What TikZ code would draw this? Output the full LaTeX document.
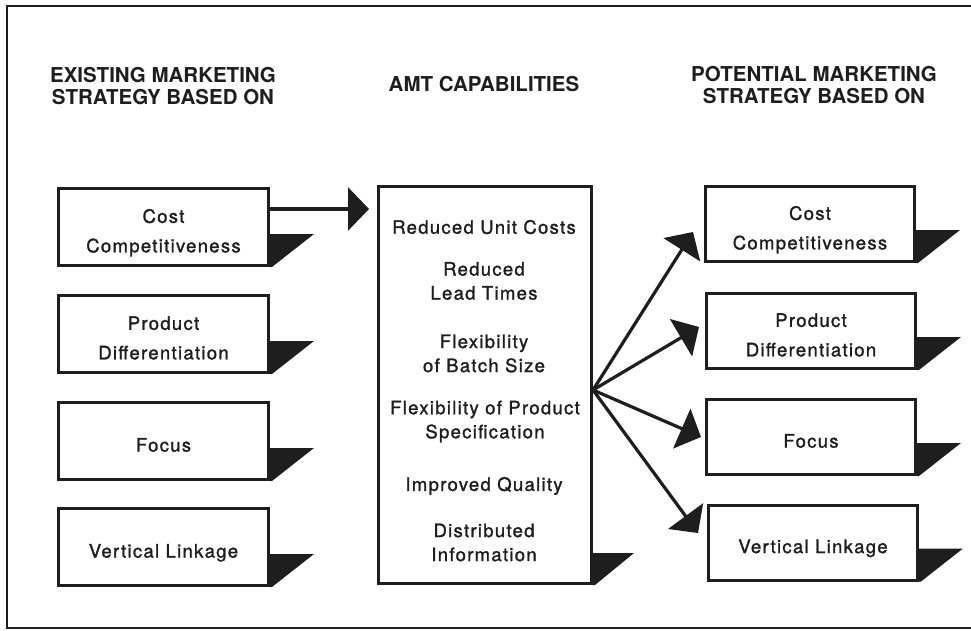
\documentclass[tikz,border=0pt]{standalone}
\usepackage{fontspec}
\setmainfont{TeX Gyre Heros}
\newfontfamily\bodyfont[LetterSpace=7,FakeBold=1.4]{TeX Gyre Heros}
\usetikzlibrary{arrows.meta,calc}
\definecolor{ink}{RGB}{30,30,30}
\begin{document}
\begin{tikzpicture}[x=1pt,y=1pt,
  box/.style={draw=ink, line width=3pt, fill=white, minimum width=210pt, minimum height=77pt,
    inner sep=0pt, align=center, font=\bodyfont\fontsize{18.5}{29.5}\selectfont, text=ink,
    text depth=2.8pt},
  one/.style={text height=24pt},
  two/.style={text height=53.5pt},
  rbox/.style={box, minimum width=209pt, minimum height=75pt},
  capbox/.style={draw=ink, line width=3pt, minimum width=213pt, minimum height=397pt, inner sep=0pt},
  captext/.style={align=center, font=\bodyfont\fontsize{18.5}{24}\selectfont, text=ink, inner sep=0pt},
  head/.style={align=center, font=\bfseries\fontsize{20.5}{22}\selectfont, text=ink, inner sep=0pt},
  arr/.style={draw=ink, line width=3.2pt, -{Triangle[length=21pt,width=43pt]}},
  shadowfill/.style={fill=ink}
]
\useasboundingbox (0,0) rectangle (971,-631);
\fill[white] (0,0) rectangle (971,-631);
% frame
\draw[ink, line width=2.8pt] (975,-6) -- (7,-6) -- (7,-628) -- (975,-628);

% headings
\node[head] (hl) at (163,-86.5) {EXISTING MARKETING\\STRATEGY BASED ON};
\node[head] (hc) at (484,-84) {AMT CAPABILITIES};
\node[head] (hr) at (814,-85.5) {POTENTIAL MARKETING\\STRATEGY BASED ON};

% left boxes
\node[box,two] (l1) at (163.5,-227) {Cost\\Competitiveness};
\node[box,two] (l2) at (163.5,-334) {Product\\Differentiation};
\node[box,one] (l3) at (163.5,-441) {Focus};
\node[box,one] (l4) at (163.5,-547) {Vertical Linkage};

% right boxes
\node[rbox,two] (r1) at (810,-224) {Cost\\Competitiveness};
\node[rbox,two] (r2) at (811,-331) {Product\\Differentiation};
\node[rbox,one] (r3) at (811,-437) {Focus};
\node[rbox,one] (r4) at (813,-542.5) {Vertical Linkage};

% center box
\node[capbox] (amt) at (485,-385) {};
\node[captext] (c1) at (484,-227) {Reduced Unit Costs};
\node[captext] (c2) at (484,-281) {Reduced\\Lead Times};
\node[captext] (c3) at (484,-353.5) {Flexibility\\of Batch Size};
\node[captext] (c4) at (485,-421.5) {Flexibility of Product\\Specification};
\node[captext] (c5) at (484,-486) {Improved Quality};
\node[captext] (c6) at (484,-542.5) {Distributed\\Information};

% shadows
\foreach \b in {l1,l2,l3,l4,r1,r2,r3,r4}{
  \fill[shadowfill] ($(\b.south east)+(0,33)$) -- ++(44,0) -- ($(\b.south east)+(2,0)$) -- (\b.south east) -- cycle;
}
\fill[shadowfill] ($(amt.south east)+(0,32)$) -- ++(41,0) -- ($(amt.south east)+(2,0)$) -- (amt.south east) -- cycle;

% connectors
\coordinate (s1) at ($(l1.east)+(0,18)$);
\draw[arr, shorten >=8pt] (s1) -- (s1 -| amt.west);

\coordinate (src) at ($(amt.east)+(0,-5)$);
\coordinate (t1) at ($(r1.west)+(-11,-8)$);
\coordinate (t2) at ($(r2.west)+(-6,4)$);
\coordinate (t3) at ($(r3.west)+(-4,0)$);
\coordinate (t4) at ($(r4.west)+(-9,9.5)$);
\foreach \t in {t1,t2,t3,t4}{
  \draw[arr] (src) -- (\t);
}
\end{tikzpicture}
\end{document}
